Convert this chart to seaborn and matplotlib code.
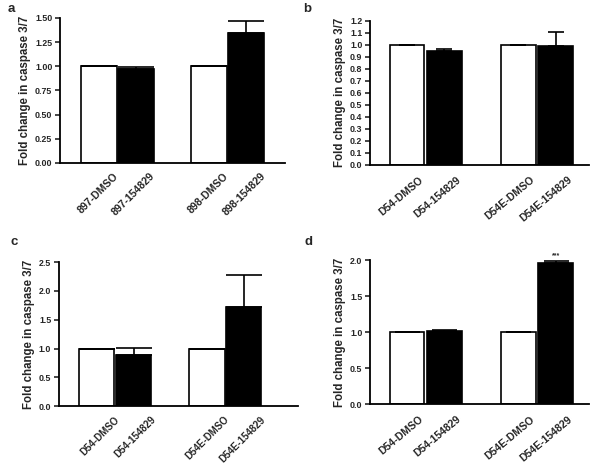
import numpy as np
import pandas as pd
import seaborn as sns
import matplotlib.pyplot as plt
from matplotlib.transforms import ScaledTranslation

# panel data: bar heights and upper SEM
cats_a = ["897-DMSO", "897-154829", "898-DMSO", "898-154829"]
vals_a = [1.00, 0.975, 1.00, 1.34]
errs_a = [0.0, 0.015, 0.0, 0.13]

cats_b = ["D54-DMSO", "D54-154829", "D54E-DMSO", "D54E-154829"]
vals_b = [1.00, 0.945, 1.00, 0.99]
errs_b = [0.0, 0.02, 0.0, 0.115]

cats_c = ["D54-DMSO", "D54-154829", "D54E-DMSO", "D54E-154829"]
vals_c = [1.00, 0.895, 1.00, 1.73]
errs_c = [0.0, 0.11, 0.0, 0.545]

cats_d = ["D54-DMSO", "D54-154829", "D54E-DMSO", "D54E-154829"]
vals_d = [1.00, 1.015, 1.00, 1.965]
errs_d = [0.0, 0.02, 0.0, 0.03]

treatment = ["DMSO", "154829", "DMSO", "154829"]

sns.set_theme(style="ticks")
plt.rcParams["font.family"] = ["Liberation Sans", "DejaVu Sans"]
plt.rcParams["font.weight"] = "bold"

fig = plt.figure(figsize=(6, 4.65), dpi=100)

panels = [
    # label, cats, vals, errs, rect, ylim, step, fmt, xlim, width, capsize,
    # rotation, label size, label offset (px), letter pos
    ("a", cats_a, vals_a, errs_a, [0.100, 0.6495, 0.375, 0.312], 1.5, 0.25, "{:.2f}",
     (-1.05, 5.05), 0.98, 13, 45, 7.6, (14, -8), (0.012, 0.981)),
    ("b", cats_b, vals_b, errs_b, [0.6167, 0.6458, 0.365, 0.3097], 1.2, 0.1, "{:.1f}",
     (-1.0, 4.9), 0.93, 6, 40, 7.6, (12, -10), (0.505, 0.981)),
    ("c", cats_c, vals_c, errs_c, [0.0983, 0.1262, 0.398, 0.310], 2.5, 0.5, "{:.1f}",
     (-1.03, 5.47), 0.96, 13, 45, 7.0, (17, -8), (0.017, 0.480)),
    ("d", cats_d, vals_d, errs_d, [0.6167, 0.1305, 0.365, 0.3097], 2.0, 0.5, "{:.1f}",
     (-1.0, 4.9), 0.93, 9, 40, 7.6, (12, -10), (0.508, 0.480)),
]

for (label, cats, vals, errs, rect, ytop, step, fmt, xlim, width, cap,
     rot, xfs, off, lpos) in panels:
    ax = fig.add_axes(rect)
    df = pd.DataFrame({"group": cats, "fold": vals, "err": errs, "treatment": treatment})
    order = cats[:2] + [" "] + cats[2:]
    sns.barplot(data=df, x="group", y="fold", hue="treatment", order=order,
                palette={"DMSO": "white", "154829": "black"}, dodge=False,
                width=width, edgecolor="black", linewidth=1.2, legend=False, ax=ax)
    pos = [order.index(c) for c in cats]
    ax.errorbar(pos, df["fold"], yerr=[np.zeros(len(errs)), df["err"]], fmt="none",
                ecolor="black", elinewidth=1.2, capsize=cap, capthick=1.2, zorder=1)
    ax.set_xlim(*xlim)
    ax.set_ylim(0, ytop)
    ticks = np.arange(0, ytop + step / 2, step)
    ax.set_yticks(ticks)
    ax.set_yticklabels([fmt.format(t) for t in ticks], fontsize=6.4, fontweight="bold")
    ax.set_xticks(pos)
    ax.set_xticklabels([])
    # rotated category labels, placed under each bar with a small offset
    shift = ScaledTranslation(off[0] / 100, off[1] / 100, fig.dpi_scale_trans)
    for p, c in zip(pos, cats):
        ax.text(p, 0, c, transform=ax.get_xaxis_transform() + shift,
                rotation=rot, rotation_mode="anchor", ha="right", va="top",
                fontsize=xfs, fontweight="bold", clip_on=False)
    ax.tick_params(axis="x", length=0)
    ax.tick_params(axis="y", length=3.5, width=1.2, pad=2)
    ax.set_xlabel("")
    ax.set_ylabel("Fold change in caspase 3/7", fontsize=8.3, fontweight="bold", labelpad=3)
    for s in ["left", "bottom"]:
        ax.spines[s].set_linewidth(1.3)
        ax.spines[s].set_color("black")
    sns.despine(ax=ax)
    fig.text(lpos[0], lpos[1], label, fontsize=9.5, fontweight="bold",
             ha="left", va="center")

# significance stars in panel d
ax_d = fig.axes[-1]
ax_d.text(4, vals_d[3] + errs_d[3] + 0.02, "***", ha="center", va="bottom",
          fontsize=5, fontweight="bold")

fig.savefig("out.png", dpi=100)
